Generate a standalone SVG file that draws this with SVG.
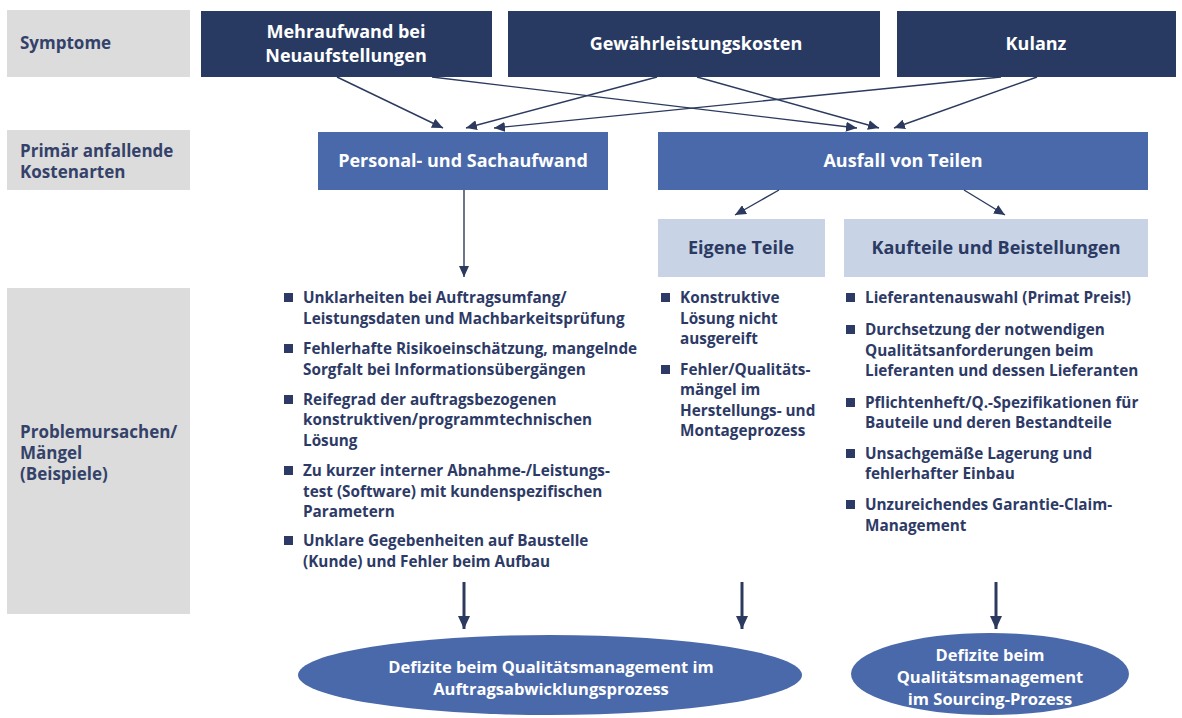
<svg xmlns="http://www.w3.org/2000/svg" width="1182" height="718" viewBox="0 0 1182 718">
<defs>
<style>
.lbl{fill:#dcdcdc}
.lt{font-family:"Open Sans",Lato,"Liberation Sans",sans-serif;font-weight:bold;font-size:17px;fill:#34426a}
.dark{fill:#283a62}
.mid{fill:#4a69aa}
.light{fill:#c9d3e6}
.wt{font-family:"Open Sans",Lato,"Liberation Sans",sans-serif;font-weight:bold;font-size:18px;fill:#ffffff;text-anchor:middle}
.nt{font-family:"Open Sans",Lato,"Liberation Sans",sans-serif;font-weight:bold;font-size:18px;fill:#2b3a62;text-anchor:middle}
.bt{font-family:"Open Sans",Lato,"Liberation Sans",sans-serif;font-weight:bold;font-size:15.3px;fill:#2d3a66}
.et{font-family:"Open Sans",Lato,"Liberation Sans",sans-serif;font-weight:bold;font-size:16.5px;fill:#ffffff;text-anchor:middle}
.bul{fill:#2d3a66}
.thin{stroke:#2b3a5e;stroke-width:1.4;fill:none}
.thick{stroke:#2b3a5e;stroke-width:3;fill:none}
</style>
<marker id="ah" markerUnits="userSpaceOnUse" markerWidth="12" markerHeight="10" refX="11" refY="5" orient="auto">
<path d="M0,0 L11,5 L0,10 Z" fill="#2b3a5e"/>
</marker>
<marker id="ahb" markerUnits="userSpaceOnUse" markerWidth="14" markerHeight="12" refX="13" refY="6" orient="auto">
<path d="M0,0 L13,6 L0,12 Z" fill="#2b3a5e"/>
</marker>
</defs>
<rect width="1182" height="718" fill="#ffffff"/>

<g id="label-symptome">
<rect class="lbl" x="7" y="10" width="183" height="67"/>
<text class="lt" x="20" y="49">Symptome</text>
</g>
<g id="label-kostenarten">
<rect class="lbl" x="7" y="130" width="183" height="60"/>
<text class="lt" x="20" y="157">Primär anfallende</text>
<text class="lt" x="20" y="178">Kostenarten</text>
</g>
<g id="label-problem">
<rect class="lbl" x="7" y="288" width="183" height="326"/>
<text class="lt" x="20" y="438">Problemursachen/</text>
<text class="lt" x="20" y="459">Mängel</text>
<text class="lt" x="20" y="480">(Beispiele)</text>
</g>

<g id="s-mehraufwand">
<rect class="dark" x="201" y="11" width="291" height="66"/>
<text class="wt" x="346" y="38">Mehraufwand bei</text>
<text class="wt" x="346" y="62">Neuaufstellungen</text>
</g>
<g id="s-gewaehr">
<rect class="dark" x="508" y="11" width="372" height="66"/>
<text class="wt" x="696" y="50">Gewährleistungskosten</text>
</g>
<g id="s-kulanz">
<rect class="dark" x="897" y="11" width="279" height="66"/>
<text class="wt" x="1036" y="50">Kulanz</text>
</g>

<g id="k-personal">
<rect class="mid" x="318" y="132" width="290" height="58"/>
<text class="wt" x="463" y="167">Personal- und Sachaufwand</text>
</g>
<g id="k-ausfall">
<rect class="mid" x="658" y="132" width="490" height="58"/>
<text class="wt" x="903" y="167">Ausfall von Teilen</text>
</g>
<g id="t-eigene">
<rect class="light" x="658" y="219" width="167" height="58"/>
<text class="nt" x="741" y="254">Eigene Teile</text>
</g>
<g id="t-kauf">
<rect class="light" x="844" y="219" width="304" height="58"/>
<text class="nt" x="996" y="254">Kaufteile und Beistellungen</text>
</g>

<g id="list-left">
<rect class="bul" x="284" y="293" width="9" height="9"/>
<text class="bt" x="303" y="303">Unklarheiten bei Auftragsumfang/</text>
<text class="bt" x="303" y="324">Leistungsdaten und Machbarkeitsprüfung</text>
<rect class="bul" x="284" y="344" width="9" height="9"/>
<text class="bt" x="303" y="354">Fehlerhafte Risikoeinschätzung, mangelnde</text>
<text class="bt" x="303" y="375">Sorgfalt bei Informationsübergängen</text>
<rect class="bul" x="284" y="395" width="9" height="9"/>
<text class="bt" x="303" y="405">Reifegrad der auftragsbezogenen</text>
<text class="bt" x="303" y="425">konstruktiven/programmtechnischen</text>
<text class="bt" x="303" y="446">Lösung</text>
<rect class="bul" x="284" y="466" width="9" height="9"/>
<text class="bt" x="303" y="476">Zu kurzer interner Abnahme-/Leistungs-</text>
<text class="bt" x="303" y="497">test (Software) mit kundenspezifischen</text>
<text class="bt" x="303" y="517">Parametern</text>
<rect class="bul" x="284" y="536" width="9" height="9"/>
<text class="bt" x="303" y="546">Unklare Gegebenheiten auf Baustelle</text>
<text class="bt" x="303" y="567">(Kunde) und Fehler beim Aufbau</text>
</g>

<g id="list-mid">
<rect class="bul" x="661" y="293" width="9" height="9"/>
<text class="bt" x="680" y="303">Konstruktive</text>
<text class="bt" x="680" y="324">Lösung nicht</text>
<text class="bt" x="680" y="344">ausgereift</text>
<rect class="bul" x="661" y="365" width="9" height="9"/>
<text class="bt" x="680" y="375">Fehler/Qualitäts-</text>
<text class="bt" x="680" y="395">mängel im</text>
<text class="bt" x="680" y="416">Herstellungs- und</text>
<text class="bt" x="680" y="436">Montageprozess</text>
</g>

<g id="list-right">
<rect class="bul" x="846" y="293" width="9" height="9"/>
<text class="bt" x="865" y="303">Lieferantenauswahl (Primat Preis!)</text>
<rect class="bul" x="846" y="325" width="9" height="9"/>
<text class="bt" x="865" y="335">Durchsetzung der notwendigen</text>
<text class="bt" x="865" y="356">Qualitätsanforderungen beim</text>
<text class="bt" x="865" y="376">Lieferanten und dessen Lieferanten</text>
<rect class="bul" x="846" y="398" width="9" height="9"/>
<text class="bt" x="865" y="408">Pflichtenheft/Q.-Spezifikationen für</text>
<text class="bt" x="865" y="428">Bauteile und deren Bestandteile</text>
<rect class="bul" x="846" y="449" width="9" height="9"/>
<text class="bt" x="865" y="459">Unsachgemäße Lagerung und</text>
<text class="bt" x="865" y="479">fehlerhafter Einbau</text>
<rect class="bul" x="846" y="500" width="9" height="9"/>
<text class="bt" x="865" y="510">Unzureichendes Garantie-Claim-</text>
<text class="bt" x="865" y="531">Management</text>
</g>

<g id="e-auftrag">
<ellipse class="mid" cx="550" cy="675" rx="252" ry="40"/>
<text class="et" x="551" y="673">Defizite beim Qualitätsmanagement im</text>
<text class="et" x="551" y="695">Auftragsabwicklungsprozess</text>
</g>
<g id="e-sourcing">
<ellipse class="mid" cx="990" cy="674" rx="139" ry="41"/>
<text class="et" x="990" y="661">Defizite beim</text>
<text class="et" x="990" y="683">Qualitätsmanagement</text>
<text class="et" x="990" y="705">im Sourcing-Prozess</text>
</g>

<g id="connectors">
<line class="thin" x1="337" y1="77" x2="443" y2="128" marker-end="url(#ah)"/>
<line class="thin" x1="432" y1="77" x2="857" y2="128" marker-end="url(#ah)"/>
<line class="thin" x1="657" y1="77" x2="466" y2="128" marker-end="url(#ah)"/>
<line class="thin" x1="697" y1="77" x2="879" y2="128" marker-end="url(#ah)"/>
<line class="thin" x1="1001" y1="77" x2="494" y2="128" marker-end="url(#ah)"/>
<line class="thin" x1="1037" y1="77" x2="894" y2="128" marker-end="url(#ah)"/>
<line class="thin" x1="464" y1="190" x2="464" y2="277" marker-end="url(#ah)"/>
<line class="thin" x1="779" y1="190" x2="735" y2="215" marker-end="url(#ah)"/>
<line class="thin" x1="964" y1="190" x2="1005" y2="215" marker-end="url(#ah)"/>
<line class="thick" x1="464" y1="582" x2="464" y2="629" marker-end="url(#ahb)"/>
<line class="thick" x1="742" y1="582" x2="742" y2="629" marker-end="url(#ahb)"/>
<line class="thick" x1="996" y1="582" x2="996" y2="629" marker-end="url(#ahb)"/>
</g>
</svg>
